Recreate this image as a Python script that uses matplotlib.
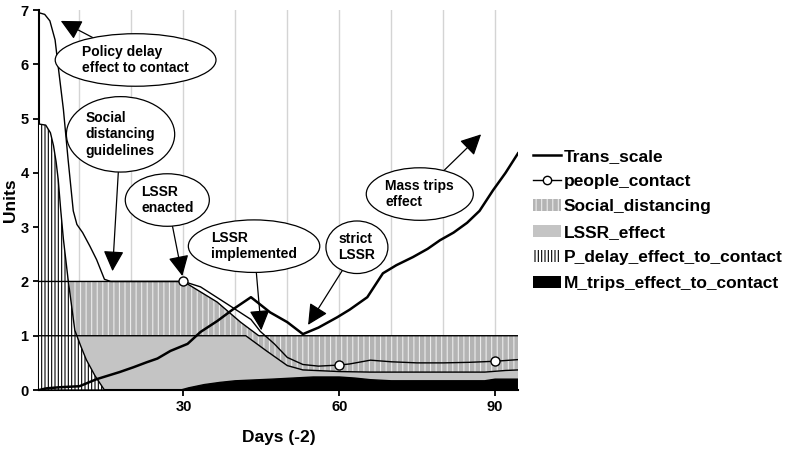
import matplotlib
matplotlib.use('Agg')
import matplotlib.pyplot as plt
from matplotlib.lines import Line2D
from matplotlib.patches import Patch

plt.rcParams['font.family'] = ['Liberation Sans', 'DejaVu Sans']
plt.rcParams['font.weight'] = 'bold'
plt.rcParams['hatch.linewidth'] = 0.8

# ---- dati ----
trans_x = [2.2, 3.6, 6, 10, 13.3, 17.7, 20.4, 22.9, 25, 27.5, 30.8, 33.3, 36.5, 39.6, 43,
           46.7, 50, 53, 56, 59.6, 62, 65.4, 68.4, 71, 74.2, 77, 79.4, 82, 84.6, 87, 89.6, 92, 94.4]
trans_y = [0, 0.03, 0.05, 0.07, 0.2, 0.33, 0.42, 0.51, 0.58, 0.72, 0.85, 1.07, 1.27, 1.49, 1.71,
           1.43, 1.25, 1.03, 1.15, 1.34, 1.48, 1.71, 2.15, 2.3, 2.45, 2.6, 2.76, 2.9, 3.08, 3.3, 3.68, 4.0, 4.36]

contact_x = [2.2, 3.3, 4.3, 5.3, 5.9, 6.9, 7.8, 8.8, 9.5, 10.6, 12, 13.3, 14.8, 16, 30, 33.3, 38.5,
             43, 44.8, 47.5, 50, 53, 56, 60, 62, 66, 70, 75, 80, 85, 90, 94.4]
contact_y = [6.95, 6.92, 6.8, 6.45, 5.96, 5.17, 4.25, 3.3, 3.05, 2.9, 2.65, 2.4, 2.04, 2.0, 2.0, 1.9, 1.58,
             1.3, 1.08, 0.85, 0.6, 0.47, 0.44, 0.46, 0.48, 0.55, 0.52, 0.5, 0.5, 0.51, 0.53, 0.56]
contact_marks = [30, 60, 90]

sd_x = [2.2, 30, 36.5, 41, 44.5, 94.4]
sd_y = [2, 2, 1.62, 1.25, 1, 1]

lssr_x = [2.2, 42, 46, 50, 53, 60, 66, 88, 92, 94.4]
lssr_y = [1, 1, 0.72, 0.45, 0.37, 0.34, 0.33, 0.33, 0.36, 0.37]

pdelay_x = [2.2, 3.5, 4.4, 5.0, 5.5, 5.9, 6.4, 6.9, 7.8, 9.1, 10.2, 11.3, 13, 14.8, 94.4]
pdelay_y = [4.9, 4.88, 4.74, 4.5, 4.2, 3.88, 3.3, 2.78, 2.04, 1.1, 0.82, 0.56, 0.26, 0.0, 0.0]

mtrips_x = [2.2, 29.5, 31, 34, 37, 40, 47, 55, 60, 63, 66, 70, 80, 88, 90, 94.4]
mtrips_y = [0, 0, 0.04, 0.1, 0.14, 0.17, 0.2, 0.24, 0.24, 0.22, 0.19, 0.17, 0.17, 0.17, 0.2, 0.2]

# note: testo, punto indicato, posizione del testo
note_testi = ['Policy delay\neffect to contact', 'Social\ndistancing\nguidelines', 'LSSR\nenacted',
              'LSSR\nimplemented', 'strict\nLSSR', 'Mass trips\neffect']
note_punta = [(6.4, 6.8), (16.35, 2.19), (29.8, 2.1), (45, 1.1), (54, 1.2), (87.3, 4.71)]
note_testo = [(20.8, 6.08), (17.9, 4.71), (26.9, 3.5), (43.6, 2.65), (63.4, 2.63), (75.5, 3.61)]

SD_GRAY = '#b4b4b4'
LSSR_GRAY = '#c4c4c4'

fig = plt.figure(figsize=(7.89, 4.5), dpi=100)
ax = fig.add_axes([0.0494, 0.1333, 0.6071, 0.8444])

# aree
ax.fill_between(sd_x, 0, sd_y, facecolor=SD_GRAY, edgecolor='#ececec', hatch='|||', linewidth=0, zorder=1)
ax.fill_between(lssr_x, 0, lssr_y, facecolor=LSSR_GRAY, linewidth=0, zorder=2)
ax.fill_between(mtrips_x, 0, mtrips_y, facecolor='black', linewidth=0, zorder=3)
ax.fill_between(pdelay_x, 0, pdelay_y, facecolor='white', edgecolor='black', hatch='|||||', linewidth=0, zorder=4)

# bordi delle aree
ax.plot(sd_x, sd_y, color='black', lw=1, zorder=5)
ax.plot(lssr_x, lssr_y, color='black', lw=1, zorder=5)
ax.plot(mtrips_x, mtrips_y, color='black', lw=1, zorder=5)
ax.plot(pdelay_x, pdelay_y, color='black', lw=1, zorder=5)

# linee
ax.plot(trans_x, trans_y, color='black', lw=1.8, zorder=6)
idx = [contact_x.index(v) for v in contact_marks]
ax.plot(contact_x, contact_y, color='black', lw=1, marker='o', markevery=idx,
        markersize=6.5, markerfacecolor='white', markeredgecolor='black', markeredgewidth=1, zorder=7)

# annotazioni con ellissi
for testo, punta, pos in zip(note_testi, note_punta, note_testo):
    ax.annotate(testo, xy=punta, xytext=pos, fontsize=10, fontweight='bold',
                ha='center', va='center', multialignment='left', zorder=10,
                bbox=dict(boxstyle='ellipse,pad=0.25', facecolor='white', edgecolor='black', lw=0.9),
                arrowprops=dict(arrowstyle='-|>,head_length=0.9,head_width=0.45', color='black',
                                lw=0.9, mutation_scale=14, shrinkA=0, shrinkB=0))

ax.set_xlim(2.2, 94.4)
ax.set_ylim(0, 7)
ax.set_xticks([30, 60, 90])
ax.set_xticks(range(10, 100, 10), minor=True)
ax.set_yticks(range(0, 8))
ax.tick_params(axis='both', which='major', direction='out', length=4, width=1.3, labelsize=10.5)
ax.tick_params(axis='x', which='minor', length=0)
ax.grid(True, axis='x', which='both', color='#d4d4d4', lw=1, zorder=0)
ax.set_axisbelow(True)
for s in ['top', 'right']:
    ax.spines[s].set_visible(False)
for s in ['left', 'bottom']:
    ax.spines[s].set_linewidth(1.5)
ax.set_xlabel('Days (-2)', fontsize=12.5, fontweight='bold', labelpad=11)
ax.set_ylabel('Units', fontsize=12.5, fontweight='bold', labelpad=1.5)

handles = [
    Line2D([], [], color='black', lw=1.8),
    Line2D([], [], color='black', lw=1, marker='o', markersize=6, markerfacecolor='white'),
    Patch(facecolor=SD_GRAY, edgecolor='#ececec', hatch='|||', linewidth=0),
    Patch(facecolor=LSSR_GRAY, linewidth=0),
    Patch(facecolor='white', edgecolor='black', hatch='|||||', linewidth=0),
    Patch(facecolor='black'),
]
labels = ['Trans_scale', 'people_contact', 'Social_distancing', 'LSSR_effect',
          'P_delay_effect_to_contact', 'M_trips_effect_to_contact']
fig.legend(handles, labels, loc='center left', bbox_to_anchor=(0.656, 0.512), frameon=False,
           fontsize=12.5, handlelength=1.6, handletextpad=0.15, labelspacing=0.59)

fig.savefig('out.png', dpi=100)
